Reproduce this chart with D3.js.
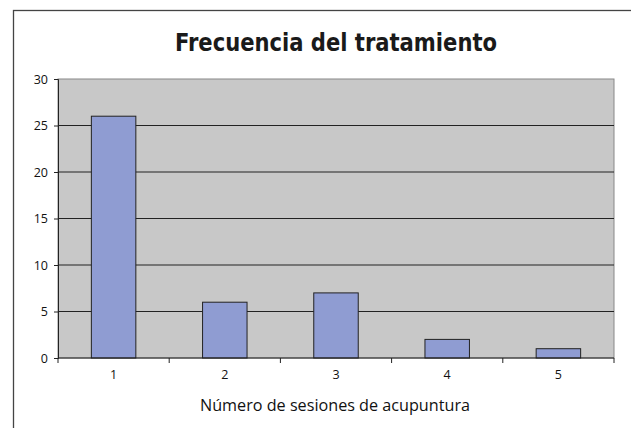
<!DOCTYPE html>
<html><head><meta charset="utf-8">
<script src="https://cdn.jsdelivr.net/npm/d3@7"></script>
<style>body{margin:0;background:#fff}svg{display:block}</style>
</head><body>
<script>
const categories = ["1","2","3","4","5"];
const values = [26, 6, 7, 2, 1];
const yTicks = [0,5,10,15,20,25,30];
const title = "Frecuencia del tratamiento";
const xTitle = "Número de sesiones de acupuntura";

const W = 631, H = 428;
const svg = d3.select("body").append("svg").attr("width", W).attr("height", H);
const font = "'Open Sans', 'DejaVu Sans', sans-serif";

// outer frame
svg.append("rect").attr("x", 13.5).attr("y", 10.5).attr("width", W).attr("height", H)
  .attr("fill", "#fff").attr("stroke", "#444").attr("stroke-width", 1.3);

const L = 58, R = 614, T = 79, B = 358;
const xb = d3.scaleBand().domain(categories).range([L, R]);
const y = d3.scaleLinear().domain([0, 30]).range([B, T]);

svg.append("rect").attr("x", L).attr("y", T).attr("width", R - L).attr("height", B - T)
  .attr("fill", "#c8c8c8").attr("stroke", "#888").attr("stroke-width", 1);

svg.append("g").selectAll("line").data(yTicks.filter(d => d > 0 && d < 30)).join("line")
  .attr("x1", L).attr("x2", R).attr("y1", d => y(d)).attr("y2", d => y(d))
  .attr("stroke", "#222").attr("stroke-width", 1);

svg.append("g").selectAll("rect").data(values).join("rect")
  .attr("x", (d, i) => xb(categories[i]) + (xb.bandwidth() - xb.bandwidth() / 2.5) / 2)
  .attr("width", xb.bandwidth() / 2.5)
  .attr("y", d => y(d)).attr("height", d => B - y(d))
  .attr("fill", "#8f9cd2").attr("stroke", "#222").attr("stroke-width", 1);

// y axis
const ya = svg.append("g").attr("transform", `translate(${L},0)`)
  .call(d3.axisLeft(y).tickValues(yTicks).tickSize(4).tickPadding(6));
ya.select(".domain").attr("stroke", "#222");
ya.selectAll(".tick line").attr("stroke", "#222");
ya.selectAll("text").attr("font-family", font).attr("font-size", 12.5).attr("fill", "#111");

// x axis
const xa = svg.append("g").attr("transform", `translate(0,${B})`);
xa.append("line").attr("x1", L).attr("x2", R).attr("y1", 0).attr("y2", 0).attr("stroke", "#222");
const bounds = categories.map(c => xb(c)).concat([R]);
xa.selectAll("line.t").data(bounds).join("line").attr("class", "t")
  .attr("x1", d => d).attr("x2", d => d).attr("y1", 0).attr("y2", 5).attr("stroke", "#222");
xa.selectAll("text").data(categories).join("text")
  .attr("x", d => xb(d) + xb.bandwidth() / 2).attr("y", 21)
  .attr("text-anchor", "middle").attr("font-family", font).attr("font-size", 12.5).attr("fill", "#111")
  .text(d => d);

svg.append("text").attr("x", 335).attr("y", 411).attr("text-anchor", "middle")
  .attr("font-family", font).attr("font-size", 16).attr("fill", "#111")
  .attr("textLength", 270).attr("lengthAdjust", "spacingAndGlyphs").text(xTitle);

svg.append("text").attr("x", 336).attr("y", 51).attr("text-anchor", "middle")
  .attr("font-family", "'DejaVu Sans Condensed', 'DejaVu Sans', sans-serif").attr("font-weight", "bold")
  .attr("font-size", 25).attr("fill", "#1a1a1a").attr("textLength", 322).attr("lengthAdjust", "spacingAndGlyphs").text(title);
</script>
</body></html>
